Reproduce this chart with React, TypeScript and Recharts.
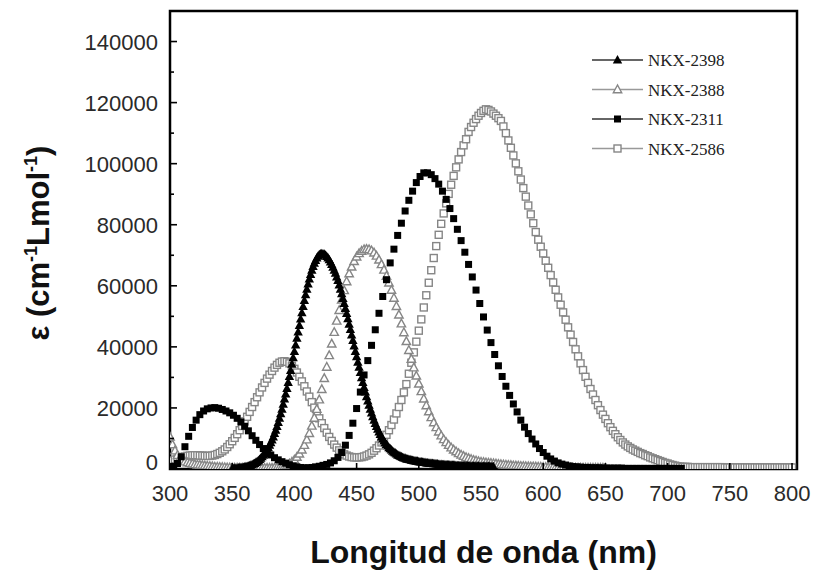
import React from 'react';
import { ScatterChart, Scatter, XAxis, YAxis, ReferenceArea, Legend } from 'recharts';

// ---------- data ----------
// wavelength grids: start (nm) and step (nm) of each series
const NKX2398_START = 350;
const NKX2398_STEP = 1;
const NKX2398_VALUES = [
  100, 100, 200, 200, 200, 300, 300, 400, 400, 500,
  600, 700, 800, 900, 1100, 1200, 1400, 1600, 1800, 2100,
  2400, 2700, 3100, 3500, 4000, 4500, 5000, 5600, 6300, 7000,
  7800, 8600, 9500, 10500, 11600, 12700, 13900, 15200, 16600, 18100,
  19600, 21200, 22900, 24600, 26400, 28300, 30300, 32300, 34300, 36400,
  38500, 40600, 42800, 44900, 47000, 49100, 51200, 53200, 55200, 57100,
  58900, 60600, 62200, 63700, 65100, 66300, 67400, 68300, 69100, 69700,
  70200, 70400, 70500, 70400, 70300, 70000, 69600, 69100, 68500, 67800,
  67000, 66100, 65100, 64100, 62900, 61700, 60300, 58900, 57400, 55800,
  54200, 52600, 50900, 49200, 47400, 45700, 43900, 42100, 40300, 38500,
  36800, 35000, 33300, 31600, 29900, 28300, 26700, 25200, 23700, 22300,
  20900, 19600, 18300, 17100, 16000, 14900, 13900, 13000, 12100, 11300,
  10500, 9800, 9200, 8600, 8000, 7500, 7000, 6600, 6200, 5800,
  5500, 5200, 4900, 4600, 4400, 4200, 4000, 3800, 3600, 3500,
  3300, 3200, 3100, 3000, 2900, 2800, 2700, 2600, 2500, 2500,
  2400, 2300, 2300, 2200, 2100, 2100, 2000, 2000, 1900, 1900,
  1800, 1800, 1700, 1700, 1600, 1600, 1500, 1500, 1500, 1400,
  1400, 1400, 1300, 1300, 1300, 1300, 1200, 1200, 1200, 1200,
  1100, 1100, 1100, 1100, 1100, 1000, 1000, 1000, 1000, 1000,
  900, 900, 900, 900, 900, 900, 900, 900, 900, 800,
  800, 800, 800, 800, 800, 800, 800, 800, 700, 700,
  700,
];

const NKX2388_START = 300;
const NKX2388_STEP = 2;
const NKX2388_VALUES = [
  10500, 8000, 6000, 4500, 3500, 2800, 2400, 2100, 1900, 1700,
  1500, 1400, 1300, 1200, 1100, 1000, 900, 800, 700, 650,
  600, 550, 500, 450, 400, 400, 350, 350, 300, 300,
  300, 300, 300, 300, 300, 300, 300, 300, 300, 300,
  300, 300, 350, 400, 500, 700, 1000, 1300, 1700, 2300,
  3000, 3900, 5000, 6300, 7800, 9600, 11700, 14100, 16700, 19600,
  22700, 26100, 29700, 33400, 37200, 41000, 44800, 48500, 52000, 55400,
  58500, 61400, 64000, 66200, 68000, 69500, 70600, 71400, 71900, 72000,
  71900, 71500, 70800, 69800, 68500, 67000, 65200, 63200, 61000, 58600,
  56000, 53300, 50500, 47600, 44700, 41800, 38900, 36000, 33200, 30500,
  27900, 25400, 23000, 20800, 18800, 16900, 15200, 13600, 12200, 10900,
  9700, 8700, 7800, 7000, 6300, 5700, 5100, 4600, 4200, 3800,
  3500, 3200, 2900, 2700, 2500, 2300, 2200, 2100, 2000, 1900,
  1800, 1700, 1600, 1500, 1400, 1300, 1250, 1200, 1100, 1050,
  1000, 950, 900, 850, 800, 780, 750, 720, 700, 650,
  600, 580, 560, 540, 520, 500, 480, 460, 440, 420,
  400, 390, 380, 370, 360, 350, 340, 330, 320, 310,
  300, 300, 300, 300, 300, 300,
];

const NKX2311_START = 300;
const NKX2311_STEP = 3;
const NKX2311_VALUES = [
  500, 900, 1800, 4000, 7300, 10700, 13600, 16000, 17800, 19000,
  19700, 20000, 20100, 19900, 19500, 19000, 18400, 17600, 16600, 15400,
  14000, 12500, 10900, 9400, 8000, 6700, 5600, 4600, 3700, 3000,
  2400, 1900, 1400, 1000, 700, 500, 400, 400, 500, 700,
  900, 1200, 1500, 2000, 2700, 3800, 5400, 7800, 11000, 15000,
  19800, 25200, 30800, 35500, 40500, 45600, 51000, 56500, 62000, 67500,
  72000, 76500, 80500, 84500, 88000, 91000, 93800, 95800, 97000, 97000,
  96400, 95100, 93300, 91000, 88300, 85300, 82000, 78500, 74800, 71000,
  67000, 62900, 58600, 54200, 49800, 45500, 41400, 37500, 33800, 30300,
  27100, 24100, 21300, 18700, 16000, 13700, 11600, 9800, 8200, 6700,
  5400, 4200, 3300, 2600, 2000, 1600, 1300, 1000, 800, 700,
  600, 500, 500, 400, 400, 400, 300, 300, 300, 300,
  300, 300, 200, 200, 200, 200, 200, 200, 200, 200,
  200, 200, 200, 200, 200, 200, 200, 200,
];

const NKX2586_START = 300;
const NKX2586_STEP = 2;
const NKX2586_VALUES = [
  2500, 2800, 3100, 3400, 3700, 3900, 4100, 4300, 4400, 4500,
  4500, 4500, 4400, 4400, 4300, 4300, 4300, 4400, 4600, 4900,
  5300, 5800, 6400, 7200, 8100, 9100, 10200, 11400, 12700, 14100,
  15600, 17100, 18700, 20300, 21900, 23500, 25100, 26700, 28200, 29600,
  30900, 32100, 33200, 34100, 34800, 35200, 35300, 35100, 34600, 33800,
  32800, 31600, 30200, 28700, 27100, 25400, 23700, 21900, 20100, 18300,
  16600, 15000, 13400, 11900, 10500, 9200, 8000, 7000, 6100, 5400,
  4800, 4400, 4100, 3900, 3800, 3800, 3800, 3900, 4100, 4400,
  4800, 5300, 6000, 6800, 7700, 8700, 9900, 11200, 12700, 14400,
  16200, 18200, 20300, 22600, 25100, 27800, 31200, 34800, 38200, 41700,
  45300, 49000, 52900, 56900, 61000, 65100, 69100, 73000, 76700, 80300,
  83700, 87000, 90100, 93100, 96000, 98800, 101400, 103800, 106000, 108000,
  110400, 112000, 113400, 114600, 115700, 116600, 117300, 117800, 117600, 117100,
  116400, 115700, 114900, 114000, 112200, 110000, 107600, 105200, 102700, 100100,
  97500, 94800, 92000, 89200, 86300, 83400, 80500, 77600, 75100, 72800,
  70600, 68200, 65900, 63500, 61100, 58700, 56200, 53800, 51300, 48900,
  46400, 44000, 41600, 39200, 36900, 34600, 32400, 30200, 28200, 26200,
  24400, 22600, 20900, 19300, 17800, 16400, 15000, 13700, 12500, 11400,
  10400, 9500, 8700, 8000, 7400, 6900, 6400, 6000, 5600, 5200,
  4900, 4500, 4200, 3800, 3500, 3200, 2900, 2600, 2300, 2000,
  1800, 1500, 1300, 1100, 900, 800, 700, 700, 700, 600,
  600, 600, 600, 600, 600, 600, 600, 600, 600, 600,
  600, 600, 600, 500, 500, 500, 500, 500, 500, 500,
  500, 500, 500, 500, 500, 500, 500, 500, 500, 500,
  500, 500, 500, 500, 500, 500, 500, 500, 500, 500,
  500,
];

const SERIES_NAMES = ['NKX-2398', 'NKX-2388', 'NKX-2311', 'NKX-2586'];
const X_TICKS = [300, 350, 400, 450, 500, 550, 600, 650, 700, 750, 800];
const Y_TICKS = [0, 10000, 20000, 30000, 40000, 50000, 60000, 70000, 80000, 90000, 100000, 110000, 120000, 130000, 140000];
const X_DOMAIN = [300, 804];
const Y_DOMAIN = [0, 150000];
const X_TITLE = 'Longitud de onda (nm)';

// ---------- helpers ----------
const toPoints = (start: number, step: number, values: number[]) =>
  values.map((v, i) => ({ x: start + i * step, y: v }));

const SANS = "'Liberation Sans', Arial, Helvetica, sans-serif";
const SERIF = "'Liberation Serif', 'Times New Roman', Times, serif";
const GRAY = '#868686';

type Kind = 'triFilled' | 'triOpen' | 'sqFilled' | 'sqOpen';

const Marker = ({ kind, cx, cy }: { kind: Kind; cx: number; cy: number }) => {
  if (cx == null || cy == null || isNaN(cx) || isNaN(cy)) return null;
  if (kind === 'triFilled') {
    return <polygon points={`${cx},${cy - 5} ${cx - 4.7},${cy + 3.5} ${cx + 4.7},${cy + 3.5}`} fill="#000" />;
  }
  if (kind === 'triOpen') {
    return (
      <polygon
        points={`${cx},${cy - 4.5} ${cx - 4.2},${cy + 3.2} ${cx + 4.2},${cy + 3.2}`}
        fill="#fff"
        stroke={GRAY}
        strokeWidth={1.4}
      />
    );
  }
  if (kind === 'sqFilled') {
    return <rect x={cx - 3.5} y={cy - 3.5} width={7} height={7} fill="#000" />;
  }
  return <rect x={cx - 3.5} y={cy - 3.5} width={7} height={7} fill="#fff" stroke={GRAY} strokeWidth={1.4} />;
};

const SERIES = [
  { name: SERIES_NAMES[0], kind: 'triFilled' as Kind, line: '#333', data: toPoints(NKX2398_START, NKX2398_STEP, NKX2398_VALUES) },
  { name: SERIES_NAMES[1], kind: 'triOpen' as Kind, line: '#999', data: toPoints(NKX2388_START, NKX2388_STEP, NKX2388_VALUES) },
  { name: SERIES_NAMES[2], kind: 'sqFilled' as Kind, line: '#333', data: toPoints(NKX2311_START, NKX2311_STEP, NKX2311_VALUES) },
  { name: SERIES_NAMES[3], kind: 'sqOpen' as Kind, line: '#999', data: toPoints(NKX2586_START, NKX2586_STEP, NKX2586_VALUES) },
];

// draw order: open markers below, filled markers on top
const DRAW_ORDER = [3, 1, 2, 0];

const XTick = (props: any) => {
  const { x, y, payload } = props;
  return (
    <g>
      <line x1={x} x2={x} y1={y} y2={y - 6} stroke="#000" strokeWidth={1.6} />
      <text x={x} y={y + 32} textAnchor="middle" fontFamily={SANS} fontSize={22} fill="#2a2a2a">
        {payload.value}
      </text>
    </g>
  );
};

const YTick = (props: any) => {
  const { x, y, payload } = props;
  const v = payload.value as number;
  const major = v % 20000 === 0;
  return (
    <g>
      <line x1={x} x2={x + (major ? 7 : 4)} y1={y} y2={y} stroke="#000" strokeWidth={1.6} />
      {major && (
        <text x={x - 12} y={y + 8 - (v === 0 ? 7 : 0)} textAnchor="end" fontFamily={SANS} fontSize={22} fill="#2a2a2a">
          {v}
        </text>
      )}
    </g>
  );
};

const XTitle = (props: any) => {
  const vb = props.viewBox || { x: 170, y: 469, width: 627 };
  return (
    <text x={vb.x + vb.width / 2} y={vb.y + 94} textAnchor="middle" fontFamily={SANS} fontWeight="bold" fontSize={32} fill="#111">
      {X_TITLE}
    </text>
  );
};

const YTitle = (props: any) => {
  const vb = props.viewBox || { x: 0, y: 11, width: 170, height: 458 };
  const cx = vb.x + 49;
  const cy = vb.y + vb.height / 2 + 3;
  return (
    <text
      x={cx}
      y={cy}
      transform={`rotate(-90, ${cx}, ${cy})`}
      textAnchor="middle"
      fontFamily={SANS}
      fontWeight="bold"
      fontSize={31}
      fill="#111"
    >
      <tspan>ε (cm</tspan>
      <tspan fontSize={18} dy={-12}>-1</tspan>
      <tspan dy={12}>Lmol</tspan>
      <tspan fontSize={18} dy={-12}>-1</tspan>
      <tspan dy={12}>)</tspan>
    </text>
  );
};

const LegendContent = () => (
  <svg width={170} height={125} style={{ display: 'block', overflow: 'visible' }}>
    {SERIES.map((s, i) => {
      const cy = 15 + i * 29.5;
      return (
        <g key={s.name}>
          <line x1={0} x2={51} y1={cy} y2={cy} stroke={s.line} strokeWidth={1.6} />
          <Marker kind={s.kind} cx={25.5} cy={cy} />
          <text x={56} y={cy + 6} fontFamily={SERIF} fontSize={17} fill="#222">
            {s.name}
          </text>
        </g>
      );
    })}
  </svg>
);

export default function App() {
  return (
    <div style={{ position: 'absolute', left: 0, top: 0, width: 817, height: 571, background: '#fff' }}>
      <ScatterChart width={817} height={571} margin={{ top: 11, right: 20, bottom: 0, left: 0 }}>
        <XAxis
          type="number"
          dataKey="x"
          domain={X_DOMAIN}
          allowDataOverflow
          ticks={X_TICKS}
          interval={0}
          height={102}
          axisLine={false}
          tickLine={false}
          tickSize={0}
          tickMargin={0}
          tick={<XTick />}
          label={<XTitle />}
        />
        <YAxis
          type="number"
          dataKey="y"
          domain={Y_DOMAIN}
          allowDataOverflow
          ticks={Y_TICKS}
          interval={0}
          width={170}
          axisLine={false}
          tickLine={false}
          tickSize={0}
          tickMargin={0}
          tick={<YTick />}
          label={<YTitle />}
        />
        {DRAW_ORDER.map((idx) => {
          const s = SERIES[idx];
          return (
            <Scatter
              key={s.name}
              name={s.name}
              data={s.data}
              isAnimationActive={false}
              shape={(p: any) => <Marker kind={s.kind} cx={p.cx} cy={p.cy} />}
            />
          );
        })}
        <ReferenceArea
          x1={X_DOMAIN[0]}
          x2={X_DOMAIN[1]}
          y1={Y_DOMAIN[0]}
          y2={Y_DOMAIN[1]}
          fill="none"
          fillOpacity={0}
          stroke="#000"
          strokeWidth={2.5}
          ifOverflow="visible"
        />
        <Legend
          layout="vertical"
          align="center"
          verticalAlign="middle"
          content={<LegendContent />}
          wrapperStyle={{ position: 'absolute', left: 592, top: 45, width: 170, height: 125 }}
        />
      </ScatterChart>
    </div>
  );
}
